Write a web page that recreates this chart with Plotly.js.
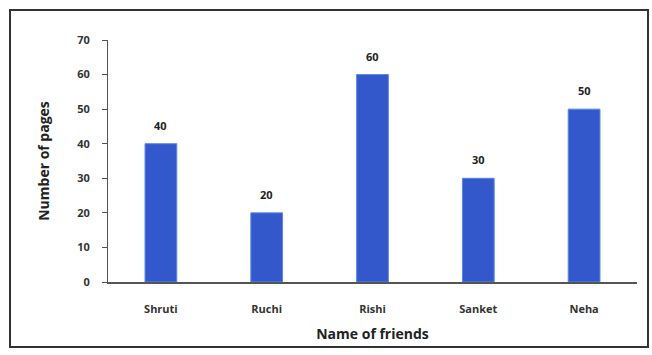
<!DOCTYPE html>
<html><head><meta charset="utf-8">
<script src="https://cdn.plot.ly/plotly-3.0.1.min.js"></script>
<style>
html,body{margin:0;padding:0;background:#fff;}
#wrap{position:relative;width:652px;height:355px;}
#chart{width:652px;height:355px;}
#frame{position:absolute;left:9px;top:9px;width:640px;height:339px;border:2px solid #333;box-sizing:border-box;pointer-events:none;}
</style></head>
<body>
<div id="wrap"><div id="chart"></div><div id="frame"></div></div>
<script>
const friends = ["Shruti", "Ruchi", "Rishi", "Sanket", "Neha"];
const pages = [40, 20, 60, 30, 50];
const yTicks = [0, 10, 20, 30, 40, 50, 60, 70];

const font = "Open Sans, DejaVu Sans, sans-serif";
const trace = {
  type: "bar",
  x: friends,
  y: pages,
  marker: {color: "#3358cc", line: {color: "#5a86e6", width: 1}},
  hoverinfo: "none"
};
const annotations = friends.map((f, i) => ({
  x: f, y: pages[i], xref: "x", yref: "y",
  text: String(pages[i]), showarrow: false,
  yanchor: "bottom", yshift: 9,
  font: {family: font, size: 11, color: "#222", weight: "bold"}
}));
const layout = {
  width: 652, height: 355,
  margin: {l: 108, r: 15, t: 40, b: 73},
  paper_bgcolor: "#fff", plot_bgcolor: "#fff",
  showlegend: false,
  bargap: 0.7,
  xaxis: {
    showline: true, linecolor: "#555", linewidth: 1.5,
    ticks: "", tickfont: {family: font, size: 11, color: "#333", weight: "bold"},
    ticklabelstandoff: 16,
    title: {text: "Name of friends", font: {family: font, size: 14, color: "#222", weight: "bold"}, standoff: 14}
  },
  yaxis: {
    range: [0, 70], tickvals: yTicks, showgrid: false, zeroline: false,
    showline: true, linecolor: "#555", linewidth: 1,
    ticks: "outside", ticklen: 5, tickcolor: "#555",
    tickfont: {family: font, size: 11, color: "#333", weight: "bold"},
    ticklabelstandoff: 10,
    title: {text: "Number of pages", font: {family: font, size: 14, color: "#222", weight: "bold"}, standoff: 24}
  },
  annotations: annotations
};
Plotly.newPlot("chart", [trace], layout, {staticPlot: true, displayModeBar: false});
</script>
</body></html>
